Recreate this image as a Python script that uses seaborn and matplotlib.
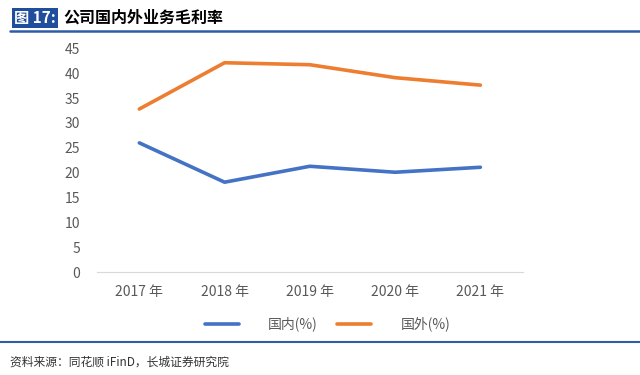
import pandas as pd
import matplotlib
matplotlib.use("Agg")
import matplotlib.pyplot as plt
import seaborn as sns
from matplotlib.lines import Line2D

# 数据
years = ["2017 年", "2018 年", "2019 年", "2020 年", "2021 年"]
domestic = [26.0, 18.1, 21.3, 20.1, 21.1]
overseas = [32.8, 42.1, 41.7, 39.1, 37.6]
series_names = ["国内(%)", "国外(%)"]

df = pd.DataFrame({"year": years * 2,
                   "value": domestic + overseas,
                   "series": [series_names[0]] * 5 + [series_names[1]] * 5})

sns.set_style("white")
plt.rcParams["font.family"] = ["Noto Sans CJK SC", "DejaVu Sans"]

fig = plt.figure(figsize=(6.4, 3.75), dpi=100)
ax = fig.add_axes([96.7 / 640, 1 - 272.3 / 375, (523 - 96.7) / 640, (272.3 - 48.3) / 375])

sns.lineplot(data=df, x="year", y="value", hue="series", sort=False,
             palette=["#4472C4", "#ED7D31"], linewidth=2.6, ax=ax, legend=False)

ax.set_ylim(0, 45)
ax.set_xlim(-0.5, 4.5)
ax.set_yticks(range(0, 46, 5))
ax.set_xlabel("")
ax.set_ylabel("")
for s in ["top", "right", "left"]:
    ax.spines[s].set_visible(False)
ax.spines["bottom"].set_color("#d9d9d9")
ax.tick_params(axis="both", length=0, labelsize=10, labelcolor="#595959")
ax.tick_params(axis="x", pad=9)
ax.tick_params(axis="y", pad=12)

# 图例
handles = [Line2D([0], [0], color="#4472C4", lw=2.6),
           Line2D([0], [0], color="#ED7D31", lw=2.6)]
fig.legend(handles, series_names, loc="center", bbox_to_anchor=(0.512, 1 - 324 / 375),
           ncol=2, frameon=False, fontsize=10, handlelength=2.45, columnspacing=1.4,
           handletextpad=2.1, labelcolor="#595959")

# 标题
fig.text(14 / 640, 1 - 18 / 375, "图 17:", fontsize=11, fontweight="bold", color="white",
         va="center", ha="left",
         bbox=dict(boxstyle="square,pad=0.15", fc="#1F4E9C", ec="none"))
fig.text(63 / 640, 1 - 18 / 375, "公司国内外业务毛利率", fontsize=11.5, fontweight="bold",
         color="black", va="center", ha="left")
fig.add_artist(Line2D([10 / 640, 1], [1 - 31 / 375] * 2, color="#2E5DA8", lw=1.8))
fig.add_artist(Line2D([0, 1], [1 - 342 / 375] * 2, color="#2E5DA8", lw=1.5))

# 资料来源
fig.text(10 / 640, 1 - 362 / 375, "资料来源：同花顺 iFinD，长城证券研究院", fontsize=8.5,
         style="italic", color="#333333", va="center", ha="left")

fig.savefig("out.png", dpi=100)
